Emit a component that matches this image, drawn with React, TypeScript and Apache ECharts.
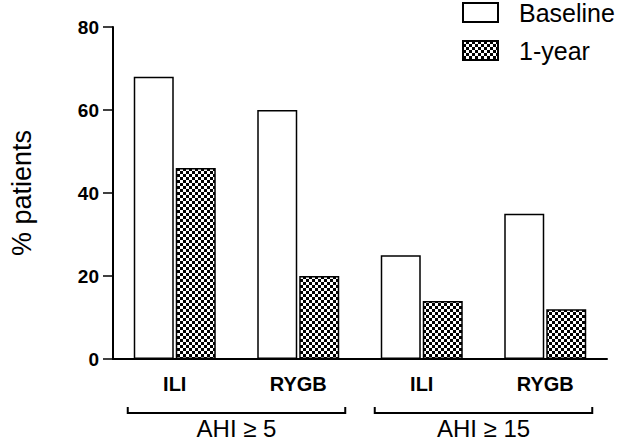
import React, { useEffect, useRef } from "react";
import * as echarts from "echarts";

const categories = ["ILI", "RYGB", "ILI", "RYGB"];
const baselineValues = [68, 60, 25, 35];
const oneYearValues = [46, 20, 14, 12];
const yTicks = [0, 20, 40, 60, 80];
const groups = [
  { label: "AHI \u2265 5", from: 0, to: 1 },
  { label: "AHI \u2265 15", from: 2, to: 3 },
];

const FONT = "'Liberation Sans', Arial, Helvetica, sans-serif";

function makeChecker(): HTMLCanvasElement {
  const c = document.createElement("canvas");
  const s = 3;
  c.width = s * 2;
  c.height = s * 2;
  const ctx = c.getContext("2d")!;
  ctx.fillStyle = "#000";
  ctx.fillRect(0, 0, s * 2, s * 2);
  ctx.fillStyle = "#fff";
  ctx.fillRect(0, 0, s, s);
  ctx.fillRect(s, s, s, s);
  return c;
}

export default function App() {
  const ref = useRef<HTMLDivElement>(null);
  useEffect(() => {
    if (!ref.current) return;
    const chart = echarts.init(ref.current, null, { renderer: "svg" });
    const checker = makeChecker();
    const pattern: any = { image: checker, repeat: "repeat" };
    chart.setOption({
      animation: false,
      backgroundColor: "#fff",
      textStyle: { fontFamily: FONT },
      grid: { left: 108, right: 16, top: 27, bottom: 83 },
      legend: {
        orient: "vertical",
        left: 462,
        top: 0,
        padding: 0,
        itemWidth: 35,
        itemHeight: 19,
        itemGap: 13,
        icon: "rect",
        textStyle: { fontSize: 25, color: "#000", fontFamily: FONT, padding: [0, 0, 0, 16] },
        data: ["Baseline", "1-year"],
      },
      xAxis: {
        type: "category",
        data: categories,
        axisLine: { lineStyle: { color: "#000", width: 2 } },
        axisTick: { alignWithLabel: true, length: 9, lineStyle: { color: "#000", width: 1.5 } },
        axisLabel: { color: "#000", fontWeight: "bold", fontSize: 20, margin: 15, fontFamily: FONT },
      },
      yAxis: {
        type: "value",
        min: 0,
        max: 80,
        interval: 20,
        name: "% patients",
        nameLocation: "middle",
        nameRotate: 90,
        nameGap: 78,
        nameTextStyle: { fontSize: 27, color: "#000", fontFamily: FONT },
        splitLine: { show: false },
        axisLine: { show: true, lineStyle: { color: "#000", width: 2 } },
        axisTick: { show: true, length: 10, lineStyle: { color: "#000", width: 1.5 } },
        axisLabel: {
          color: "#000",
          fontWeight: "bold",
          fontSize: 19,
          margin: 14,
          fontFamily: FONT,
          formatter: (v: number) => (yTicks.includes(v) ? String(v) : ""),
        },
      },
      series: [
        {
          name: "Baseline",
          type: "bar",
          data: baselineValues,
          barWidth: 40,
          barGap: "5%",
          itemStyle: { color: "#fff", borderColor: "#000", borderWidth: 1.5 },
        },
        {
          name: "1-year",
          type: "bar",
          data: oneYearValues,
          barWidth: 40,
          barGap: "5%",
          itemStyle: { color: pattern, borderColor: "#000", borderWidth: 1.5 },
        },
      ],
    });

    const graphics: any[] = [];
    groups.forEach((g) => {
      const p0 = chart.convertToPixel({ xAxisIndex: 0 }, g.from) as number;
      const p1 = chart.convertToPixel({ xAxisIndex: 0 }, g.to) as number;
      const x0 = p0 - 47;
      const x1 = p1 + 47;
      const yb = 413;
      graphics.push({
        type: "polyline",
        shape: { points: [[x0, yb - 6], [x0, yb], [x1, yb], [x1, yb - 6]] },
        style: { stroke: "#000", lineWidth: 2, fill: "none" },
      });
      graphics.push({
        type: "text",
        x: (x0 + x1) / 2,
        y: 416,
        style: {
          text: g.label,
          fontSize: 24,
          fontFamily: FONT,
          fill: "#000",
          align: "center",
          verticalAlign: "top",
        },
      });
    });
    chart.setOption({ graphic: graphics });

    return () => chart.dispose();
  }, []);
  return (
    <div
      ref={ref}
      style={{ position: "fixed", left: 0, top: 0, width: 623, height: 442 }}
    />
  );
}
